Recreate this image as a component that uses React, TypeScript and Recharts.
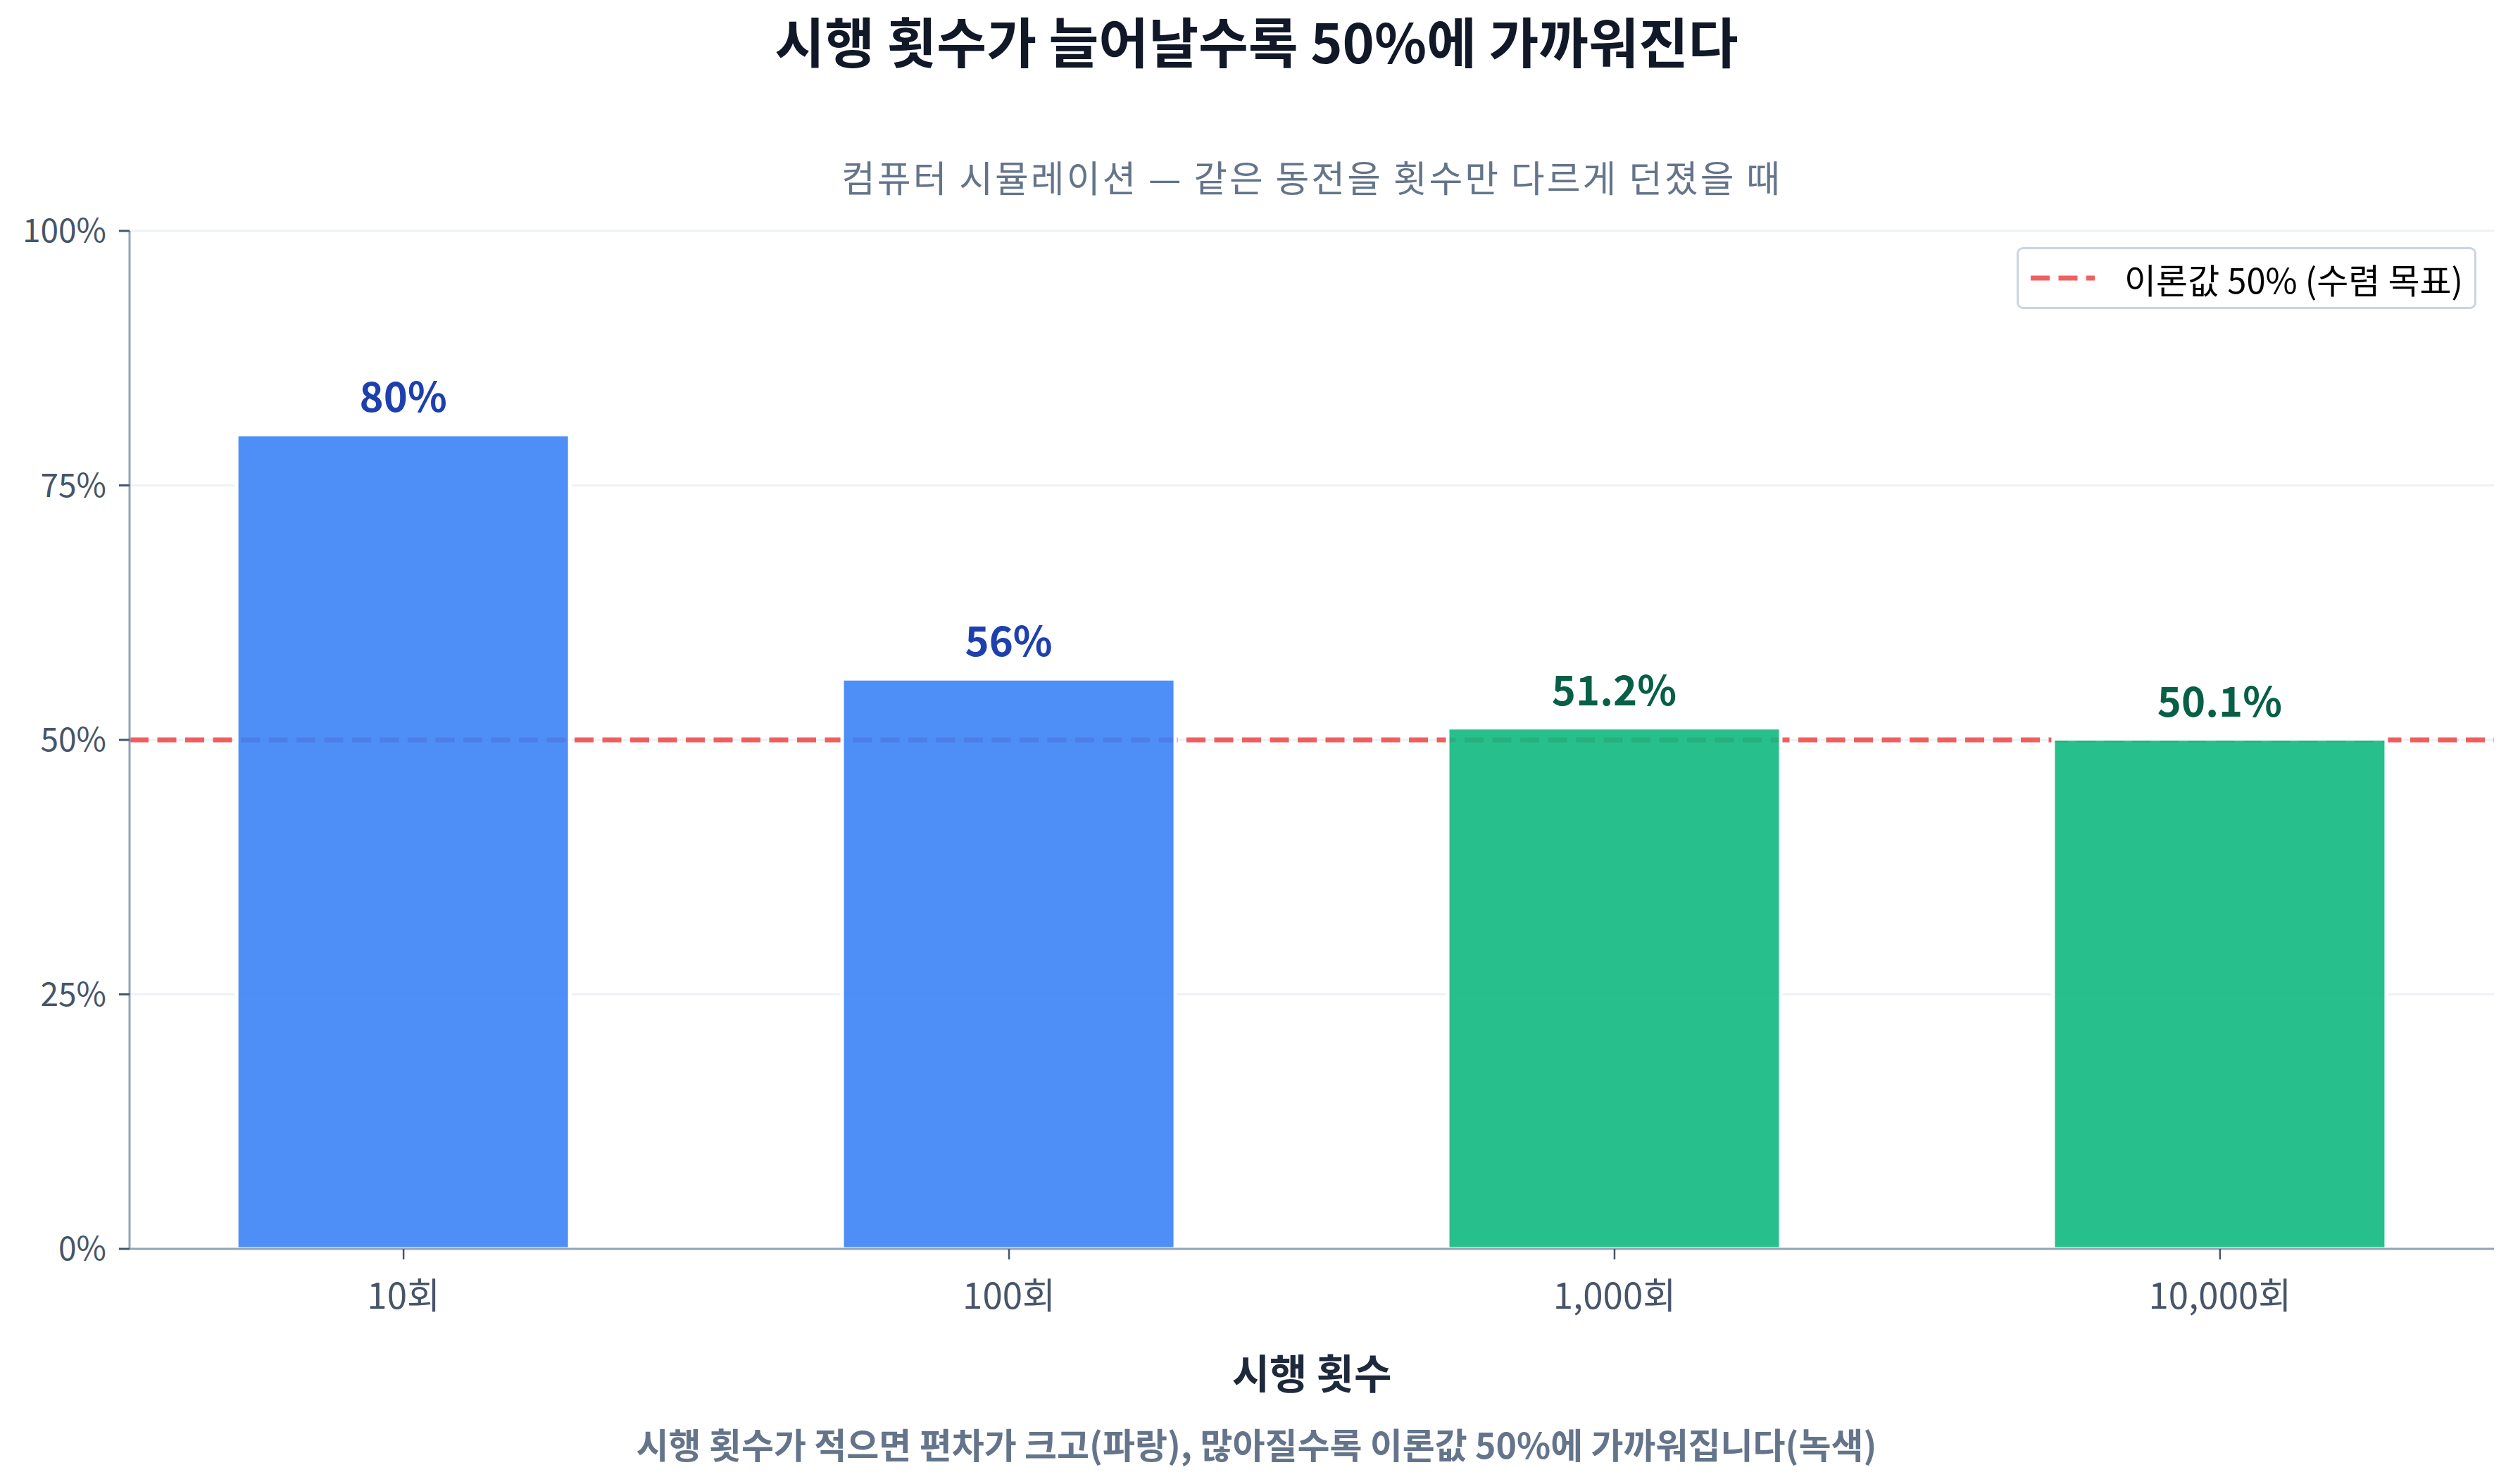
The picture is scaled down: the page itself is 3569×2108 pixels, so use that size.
import { BarChart, Bar, XAxis, YAxis, CartesianGrid, ReferenceLine, Cell, LabelList } from 'recharts';

const categories = ['10회', '100회', '1,000회', '10,000회'];
const headRates = [80, 56, 51.2, 50.1];
const yTicks = [0, 25, 50, 75, 100];
const theoretical = 50;

const FONT = "'Noto Sans CJK KR', 'Noto Sans', sans-serif";
const W = 3569;
const H = 2108;
const PLOT_CENTER = 1863;
const DASH = '27 12.5';

const chartData = categories.map((name, i) => ({ x: i, name, rate: headRates[i] }));

// bars far from 50% are "still noisy" (blue), close ones have converged (green)
const isNoisy = (v: number) => Math.abs(v - theoretical) > 5;

function ValueLabel(props: any) {
  const { x, y, width, value } = props;
  const color = isNoisy(value) ? '#1E40AF' : '#065F46';
  return (
    <text
      x={x + width / 2}
      y={y - 32}
      textAnchor="middle"
      fill={color}
      fontSize={58}
      fontWeight={700}
      fontFamily={FONT}
    >
      {`${value}%`}
    </text>
  );
}

const centered = (
  top: number,
  size: number,
  color: string,
  weight: number,
  left = W / 2,
  spacing = 0,
) => ({
  position: 'absolute' as const,
  left,
  top,
  transform: 'translate(-50%, -50%)',
  fontSize: size,
  lineHeight: 1,
  letterSpacing: spacing,
  color,
  fontWeight: weight,
  fontFamily: FONT,
  whiteSpace: 'nowrap' as const,
});

export default function App() {
  return (
    <div style={{ position: 'absolute', left: 0, top: 0, width: W, height: H, background: '#fff' }}>
      <BarChart
        width={W}
        height={H}
        data={chartData}
        margin={{ top: 328, right: 27, left: 0, bottom: 0 }}
      >
        <CartesianGrid vertical={false} stroke="#EEF1F5" strokeWidth={3} />
        <XAxis
          type="number"
          dataKey="x"
          domain={[-0.4525, 3.4525]}
          ticks={[0, 1, 2, 3]}
          interval={0}
          tickFormatter={(v: number) => categories[v]}
          height={334}
          tickSize={15}
          tickMargin={34}
          axisLine={{ stroke: '#94A3B8', strokeWidth: 3 }}
          tickLine={{ stroke: '#475569', strokeWidth: 2.5 }}
          tick={{ fontSize: 51, fill: '#475569', fontFamily: FONT }}
        />
        <YAxis
          domain={[0, 100]}
          ticks={yTicks}
          interval={0}
          tickFormatter={(v: number) => `${v}%`}
          width={184}
          tickSize={15}
          tickMargin={18}
          axisLine={{ stroke: '#94A3B8', strokeWidth: 3 }}
          tickLine={{ stroke: '#475569', strokeWidth: 3 }}
          tick={{ fontSize: 46, fill: '#475569', fontFamily: FONT }}
        />
        <ReferenceLine
          y={theoretical}
          stroke="#EF4444"
          strokeOpacity={0.85}
          strokeWidth={7}
          strokeDasharray={DASH}
          zIndex={100}
        />
        <Bar
          dataKey="rate"
          barSize={473}
          fillOpacity={0.9}
          stroke="#ffffff"
          strokeWidth={5}
          isAnimationActive={false}
        >
          {chartData.map((d) => (
            <Cell key={d.name} fill={isNoisy(d.rate) ? '#3B82F6' : '#10B981'} />
          ))}
          <LabelList dataKey="rate" content={ValueLabel} />
        </Bar>
      </BarChart>

      <div style={centered(56, 77, '#111827', 700)}>시행 횟수가 늘어날수록 50%에 가까워진다</div>
      <div style={centered(251, 52, '#64748B', 400, PLOT_CENTER, 3)}>
        컴퓨터 시뮬레이션 — 같은 동전을 횟수만 다르게 던졌을 때
      </div>
      <div style={centered(1948, 58, '#1E293B', 700, PLOT_CENTER)}>시행 횟수</div>
      <div style={centered(2050, 50, '#64748B', 700)}>
        시행 횟수가 적으면 편차가 크고(파랑), 많아질수록 이론값 50%에 가까워집니다(녹색)
      </div>

      <div
        style={{
          position: 'absolute',
          left: 2864,
          top: 351,
          width: 653,
          height: 88,
          boxSizing: 'border-box',
          border: '3px solid #CBD5E1',
          borderRadius: 9,
          background: '#fff',
          display: 'flex',
          alignItems: 'center',
          fontFamily: FONT,
        }}
      >
        <svg width={150} height={40} style={{ flex: 'none' }}>
          <line x1={17} y1={20} x2={108} y2={20} stroke="#EF4444" strokeOpacity={0.85} strokeWidth={7} strokeDasharray={DASH} />
        </svg>
        <span style={{ fontSize: 49, color: '#000', lineHeight: 1 }}>이론값 50% (수렴 목표)</span>
      </div>
    </div>
  );
}
